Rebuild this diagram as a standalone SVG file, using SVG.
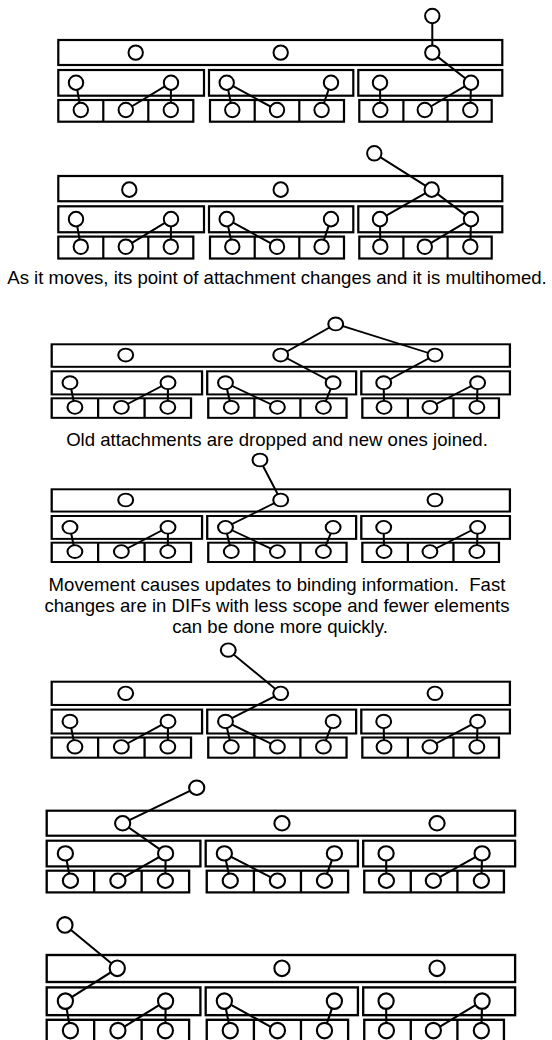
<svg xmlns="http://www.w3.org/2000/svg" xmlns:xlink="http://www.w3.org/1999/xlink" width="552" height="1040" viewBox="0 0 552 1040">
<style>
.box{fill:none;stroke:#000;stroke-width:2.2}
.ln{stroke:#000;stroke-width:2;fill:none}
.nd{fill:#fff;stroke:#000;stroke-width:2}
.cap{font-family:"Liberation Sans",Arial,Helvetica,sans-serif;font-size:18.6px;fill:#000;text-anchor:middle;white-space:pre}
</style>
<defs>
<g id="stack">
<g class="box">
<rect x="0" y="0" width="444" height="25"/>
<rect x="0" y="30" width="145.7" height="25.7"/>
<rect x="150.7" y="30" width="144.3" height="25.7"/>
<rect x="300" y="30" width="144" height="25.7"/>
<rect x="0" y="60" width="135" height="21.7"/>
<rect x="151.7" y="60" width="134" height="21.7"/>
<rect x="301" y="60" width="132.4" height="21.7"/>
<path d="M45 60V81.7M90 60V81.7M196.4 60V81.7M241 60V81.7M345.1 60V81.7M389.3 60V81.7"/>
</g>
<g class="ln">
<path d="M17.7 42.7L22.5 70M112.7 42.7L67.5 70M112.7 42.7L112.5 70M168.4 42.7L174 70M168.4 42.7L218.7 70M272.7 42.7L263.3 70M321.7 42.7L322 70M412.7 42.7L366.5 70M412.7 42.7L412 70"/>
</g>
<g class="nd">
<circle cx="17.7" cy="42.7" r="7.2"/><circle cx="112.7" cy="42.7" r="7.2"/>
<circle cx="168.4" cy="42.7" r="7.2"/><circle cx="272.7" cy="42.7" r="7.2"/>
<circle cx="321.7" cy="42.7" r="7.2"/><circle cx="412.7" cy="42.7" r="7.2"/>
<circle cx="22.5" cy="70" r="7.2"/><circle cx="67.5" cy="70" r="7.2"/><circle cx="112.5" cy="70" r="7.2"/>
<circle cx="174" cy="70" r="7.2"/><circle cx="218.7" cy="70" r="7.2"/><circle cx="263.3" cy="70" r="7.2"/>
<circle cx="322" cy="70" r="7.2"/><circle cx="366.5" cy="70" r="7.2"/><circle cx="412" cy="70" r="7.2"/>
</g>
</g>
</defs>
<rect width="552" height="1040" fill="#fff"/>

<g id="panel1" transform="translate(58.3,40)">
<g class="ln"><path d="M374 -24L374 12.6M374 12.6L412.7 42.7"/></g>
<use xlink:href="#stack" href="#stack"/>
<g class="nd"><circle cx="77.4" cy="12.6" r="7.2"/><circle cx="222.4" cy="12.6" r="7.2"/><circle cx="374" cy="12.6" r="7.2"/><circle cx="374" cy="-24" r="7.2"/></g>
</g>

<g id="panel2" transform="translate(58.3,176) scale(1,1.01)">
<g class="ln"><path d="M316 -22.5L373.4 13.5M373.4 13.5L321.7 42.7M373.4 13.5L412.7 42.7"/></g>
<use xlink:href="#stack" href="#stack"/>
<g class="nd"><circle cx="71" cy="13.5" r="7.2"/><circle cx="222.4" cy="13.5" r="7.2"/><circle cx="373.4" cy="13.5" r="7.2"/><circle cx="316" cy="-22.5" r="7.2"/></g>
</g>

<text class="cap" x="277" y="284">As it moves, its point of attachment changes and it is multihomed.</text>

<g id="panel3" transform="translate(51.7,344.3) scale(1.032,0.9)">
<g class="ln"><path d="M275.2 -22.6L221.9 11.9M275.2 -22.6L371.4 11.9M221.9 11.9L272.7 42.7M371.4 11.9L321.7 42.7"/></g>
<use xlink:href="#stack" href="#stack"/>
<g class="nd"><circle cx="71.7" cy="11.9" r="7.2"/><circle cx="221.9" cy="11.9" r="7.2"/><circle cx="371.4" cy="11.9" r="7.2"/><circle cx="275.2" cy="-22.6" r="7.2"/></g>
</g>

<text class="cap" x="277" y="446">Old attachments are dropped and new ones joined.</text>

<g id="panel4" transform="translate(51.7,489.3) scale(1.032,0.89)">
<g class="ln"><path d="M201.8 -32.9L221.9 12M221.9 12L168.4 42.7"/></g>
<use xlink:href="#stack" href="#stack"/>
<g class="nd"><circle cx="71.7" cy="12" r="7.2"/><circle cx="221.9" cy="12" r="7.2"/><circle cx="371.4" cy="12" r="7.2"/><circle cx="201.8" cy="-32.9" r="7.2"/></g>
</g>

<text class="cap" x="277" y="591.3">Movement causes updates to binding information.  Fast</text>
<text class="cap" x="277" y="612">changes are in DIFs with less scope and fewer elements</text>
<text class="cap" x="280" y="632.7">can be done more quickly.</text>

<g id="panel5" transform="translate(51.7,681.7) scale(1.032,0.93)">
<g class="ln"><path d="M171.1 -34L221.9 12.5M221.9 12.5L168.4 42.7"/></g>
<use xlink:href="#stack" href="#stack"/>
<g class="nd"><circle cx="71.7" cy="12.5" r="7.2"/><circle cx="221.9" cy="12.5" r="7.2"/><circle cx="371.4" cy="12.5" r="7.2"/><circle cx="171.1" cy="-34" r="7.2"/></g>
</g>

<g id="panel6" transform="translate(46.7,810.7) scale(1.055,1.0)">
<g class="ln"><path d="M142.2 -23L72 12.6M72 12.6L112.7 42.7"/></g>
<use xlink:href="#stack" href="#stack"/>
<g class="nd"><circle cx="72" cy="12.6" r="7.2"/><circle cx="223" cy="12.6" r="7.2"/><circle cx="370" cy="12.6" r="7.2"/><circle cx="142.2" cy="-23" r="7.2"/></g>
</g>

<g id="panel7" transform="translate(46.7,955) scale(1.055,1.08)">
<g class="ln"><path d="M17.3 -27.8L66.9 12.3M66.9 12.3L17.7 42.7"/></g>
<use xlink:href="#stack" href="#stack"/>
<g class="nd"><circle cx="66.9" cy="12.3" r="7.2"/><circle cx="223" cy="12.3" r="7.2"/><circle cx="370" cy="12.3" r="7.2"/><circle cx="17.3" cy="-27.8" r="7.2"/></g>
</g>
</svg>
